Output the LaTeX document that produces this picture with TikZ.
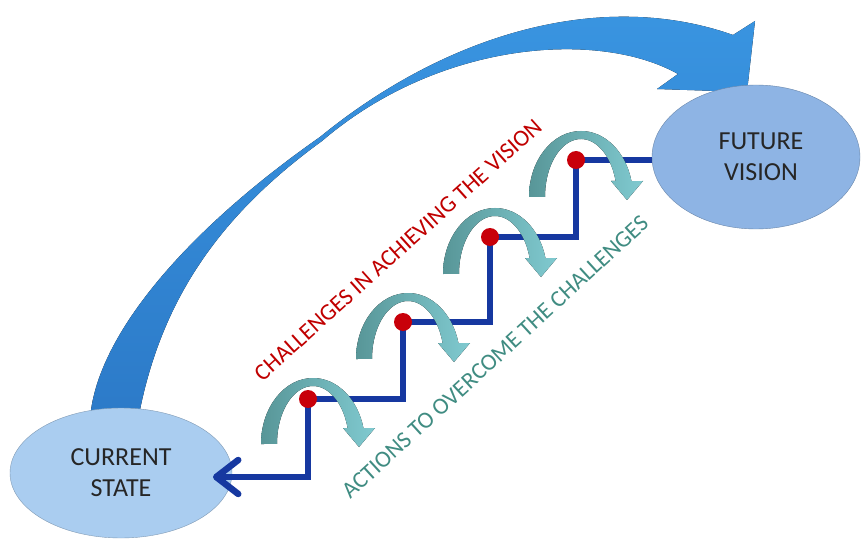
\documentclass[tikz,border=0pt]{standalone}
\usepackage{fontspec}
\setmainfont{Carlito}
\usetikzlibrary{shapes.geometric,arrows.meta}
\definecolor{leaplight}{RGB}{58,150,226}
\definecolor{leapdark}{RGB}{44,122,200}
\definecolor{cscolor}{RGB}{170,205,240}
\definecolor{fvcolor}{RGB}{142,180,228}
\definecolor{stairblue}{RGB}{22,56,160}
\definecolor{dotred}{RGB}{200,0,10}
\definecolor{hopdark}{RGB}{88,150,152}
\definecolor{hoplight}{RGB}{128,202,208}
\definecolor{chred}{RGB}{192,0,0}
\definecolor{actteal}{RGB}{64,140,130}
\tikzset{
  state/.style={ellipse, inner sep=0pt, align=center, draw=#1!75!black, line width=0.4pt, fill=#1,
    font=\fontsize{26}{31}\selectfont, text=black!85},
  stair/.style={line width=6.5pt, draw=stairblue},
  dot/.style={circle, fill=dotred, inner sep=0pt, minimum size=18pt},
  hop/.style={left color=hopdark, right color=hoplight},
  leap/.style={top color=leaplight, bottom color=leapdark},
  banner/.style={inner sep=0pt, font=\fontsize{23.5}{28}\selectfont}
}
\begin{document}
\begin{tikzpicture}[x=1pt, y=-1pt]
  \useasboundingbox (0,0) rectangle (862,540);

  % Big leap arrow
  \fill[leap] (90,420) .. controls (95,340) and (180,235) .. (320,137)
    .. controls (445,35) and (600,-12) .. (733,35)
    -- (755,21) -- (747,92) -- (657,89) -- (678,74)
    .. controls (600,30) and (440,40) .. (322,141)
    .. controls (220,215) and (160,300) .. (138,420) -- cycle;

  % Define nodes
  \node[state=cscolor, minimum width=222pt, minimum height=130pt] (cs) at (121,473) {CURRENT\\STATE};
  \node[state=fvcolor, minimum width=208pt, minimum height=144pt] (fv) at (756,157) {\hspace*{10pt}FUTURE\\\hspace*{10pt}VISION};

  \node[banner, text=chred, rotate=42] (ch) at (398,250) {CHALLENGES IN ACHIEVING THE VISION};
  \node[banner, text=actteal, rotate=42.5] (act) at (495,357) {ACTIONS TO OVERCOME THE CHALLENGES};

  \coordinate (s1) at (308,399);
  \coordinate (s2) at (403,322);
  \coordinate (s3) at (490,237);
  \coordinate (s4) at (576,160);
  \coordinate (drop) at (213,477);

  % Draw stairs
  \draw[stair, -{Straight Barb[length=22pt,width=34pt,round]}] (fv.west |- s4) -- (s4) |- (s3) |- (s2) |- (s1) |- (drop);

  % Hop arrows
  \foreach \s/\off in {s1/8, s2/0, s3/0, s4/0}{
    \begin{scope}[shift={(\s)}, shift={(0,\off)}]
      \fill[hop] (-47,37) arc[start angle=180, end angle=346, x radius=52, y radius=66]
        -- (67,21) -- (51,40) -- (35,21) -- (39.6,21)
        arc[start angle=344, end angle=180, x radius=36, y radius=58] -- cycle;
    \end{scope}
  }

  \foreach \i in {1,...,4}
    \node[dot] (d\i) at (s\i) {};
\end{tikzpicture}
\end{document}
